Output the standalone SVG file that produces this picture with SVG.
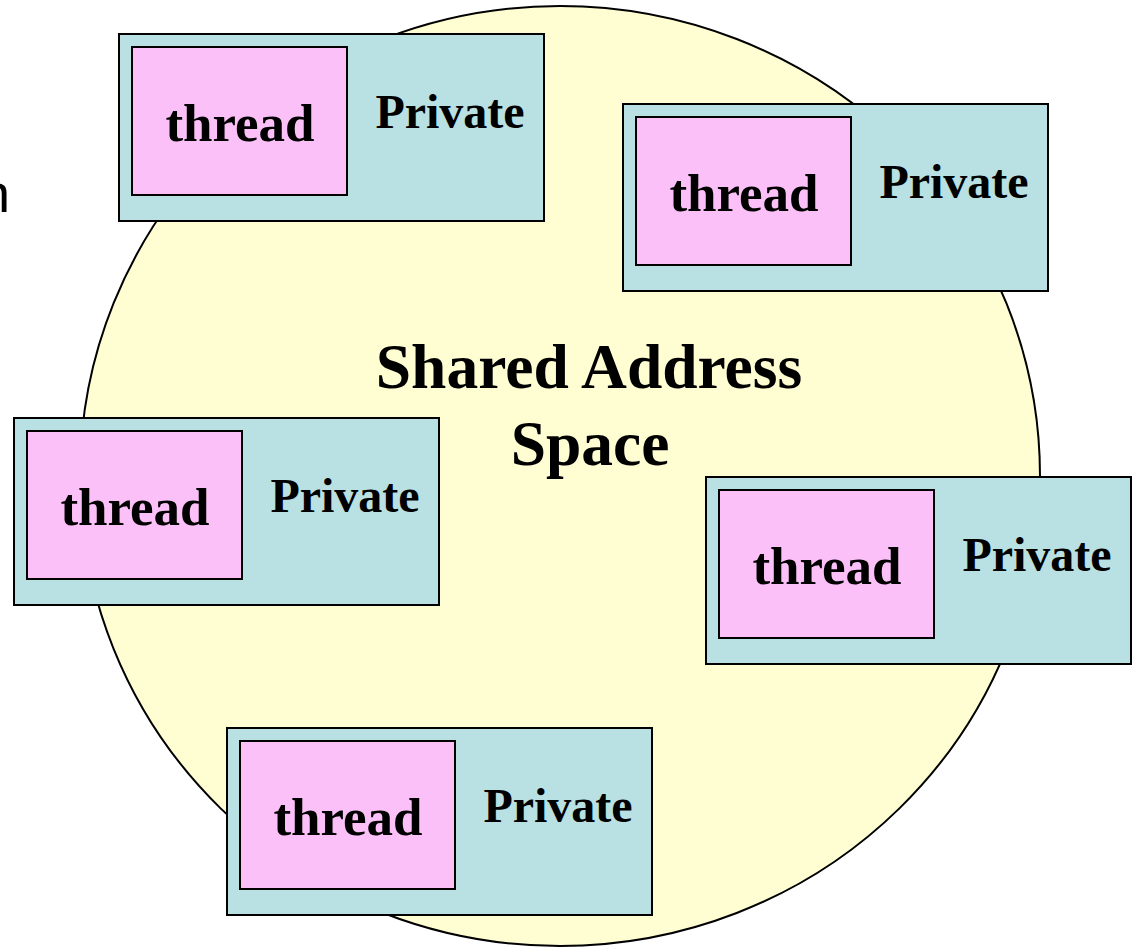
<svg xmlns="http://www.w3.org/2000/svg" width="1132" height="947" viewBox="0 0 1132 947">
<style>
.outer{fill:#B9E0E3;stroke:#000;stroke-width:2}
.inner{fill:#FBC0F7;stroke:#000;stroke-width:2}
.t{font-family:"Liberation Serif","Times New Roman",serif;font-weight:bold;fill:#000}
.thr{font-size:53px;text-anchor:middle}
.prv{font-size:48px;text-anchor:middle}
.big{font-size:63.5px;text-anchor:middle}
</style>
<rect width="1132" height="947" fill="#fff"/>
<text x="-20" y="212" font-family="Liberation Sans, Arial, sans-serif" font-size="54" fill="#000">n</text>
<g id="shared">
<ellipse cx="560" cy="476" rx="480" ry="470" fill="#FFFDD2" stroke="#000" stroke-width="2"/>
<text class="t big" x="589" y="388">Shared Address</text>
<text class="t big" x="590" y="465">Space</text>
</g>
<g id="node1" transform="translate(119,34)">
<rect class="outer" x="0" y="0" width="425" height="187"/>
<rect class="inner" x="13" y="13" width="215" height="148"/>
<text class="t thr" x="121" y="107">thread</text>
<text class="t prv" x="331" y="94">Private</text>
</g>
<g id="node2" transform="translate(623,104)">
<rect class="outer" x="0" y="0" width="425" height="187"/>
<rect class="inner" x="13" y="13" width="215" height="148"/>
<text class="t thr" x="121" y="107">thread</text>
<text class="t prv" x="331" y="94">Private</text>
</g>
<g id="node3" transform="translate(14,418)">
<rect class="outer" x="0" y="0" width="425" height="187"/>
<rect class="inner" x="13" y="13" width="215" height="148"/>
<text class="t thr" x="121" y="107">thread</text>
<text class="t prv" x="331" y="94">Private</text>
</g>
<g id="node4" transform="translate(706,477)">
<rect class="outer" x="0" y="0" width="425" height="187"/>
<rect class="inner" x="13" y="13" width="215" height="148"/>
<text class="t thr" x="121" y="107">thread</text>
<text class="t prv" x="331" y="94">Private</text>
</g>
<g id="node5" transform="translate(227,728)">
<rect class="outer" x="0" y="0" width="425" height="187"/>
<rect class="inner" x="13" y="13" width="215" height="148"/>
<text class="t thr" x="121" y="107">thread</text>
<text class="t prv" x="331" y="94">Private</text>
</g>
<g id="connectors"/>
</svg>
